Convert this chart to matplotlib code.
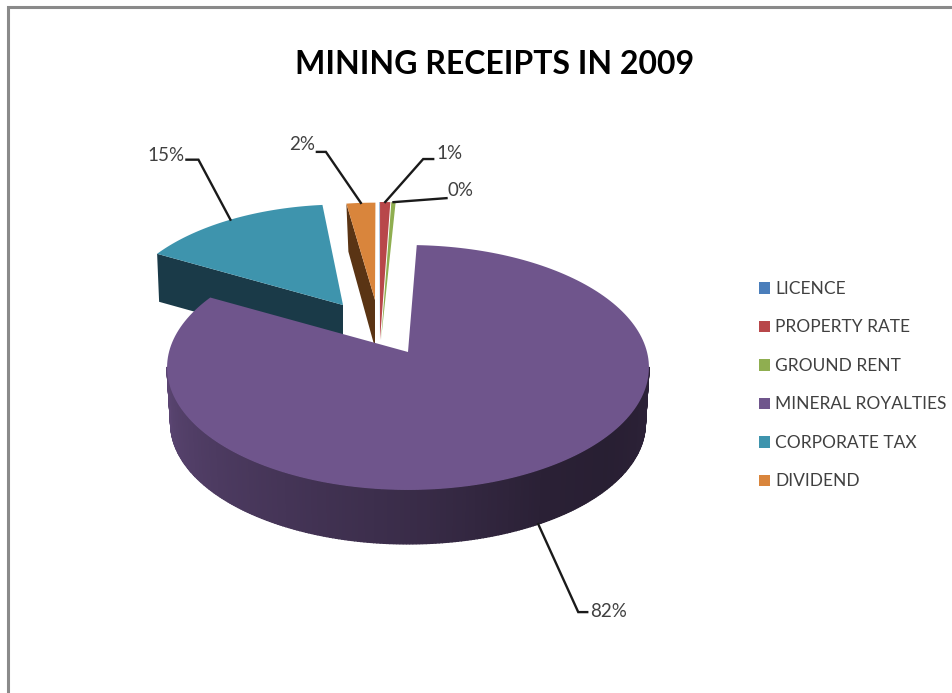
import numpy as np
import matplotlib
matplotlib.use("Agg")
import matplotlib.pyplot as plt
from matplotlib.patches import Polygon, Patch

# ---- data ----
categories = ["LICENCE", "PROPERTY RATE", "GROUND RENT", "MINERAL ROYALTIES", "CORPORATE TAX", "DIVIDEND"]
values = [0.03, 0.6, 0.25, 82.3, 15.4, 2.4]
labels = [None, "1%", "0%", "82%", "15%", "2%"]
title = "MINING RECEIPTS IN 2009"

# ---- style ----
top_colors = ["#4a7ebb", "#b8474a", "#8fae50", "#6f558c", "#3e94ad", "#d9853c"]
side_colors = ["#25405e", "#b8474a", "#6f8f3c", "#3a2b4c", "#1a3a48", "#5a3414"]
apex = [(380, 340), (380, 340), (381, 340), (408, 352), (343, 305), (375, 300)]
radius_scale = [1.29, 1.29, 1.29, 1.0, 0.94, 0.91]
twist = [0.5, 0.5, 0.5, -0.2, -0.2, -2.8]
depths = [8, 8, 8, 56, 48, 48]
start_angle = -0.6
Rx, Ry, k = 239.0, 120.5, 0.1265

plt.rcParams["font.family"] = ["Lato", "DejaVu Sans"]
fig = plt.figure(figsize=(9.53, 6.93), dpi=100)
ax = fig.add_axes([0, 0, 1, 1])
ax.set_xlim(0, 953)
ax.set_ylim(693, 0)
ax.axis("off")


def proj(center, theta, scale=1.0):
    """Perspective projection of a point on the pie circle."""
    t = np.radians(theta)
    u, v = np.sin(t), np.cos(t)
    s = scale / (1 + k * v)
    return center[0] + Rx * u * s, center[1] - Ry * v * s


cum = np.cumsum([0] + values) * 3.6 + start_angle
spans = [(a + t, b + t) for a, b, t in zip(cum[:-1], cum[1:], twist)]


def arc(center, a, b, scale=1.0, n=200):
    th = np.linspace(a, b, n)
    return np.column_stack(proj(center, th, scale))


def shade(base, f):
    c = np.array(matplotlib.colors.to_rgb(base))
    return tuple(c * f)


# far slices first; the big near slice last
for i in [4, 5, 2, 1, 0, 3]:
    a, b = spans[i]
    c = apex[i]
    d = depths[i]
    sc = radius_scale[i]
    cb = (c[0], c[1] + d)
    top = arc(c, a, b, sc)
    if i == 3:
        # rim with smooth shading around the front
        th = np.linspace(97, 263, 240)
        for t0, t1 in zip(th[:-1], th[1:]):
            p = arc(c, t0, t1, 1.0, 2)
            q = arc(cb, t0, t1, 0.985, 2)
            m = (t0 + t1) / 2
            f = np.interp(m, [88, 130, 150, 180, 225, 272], [0.42, 0.36, 0.38, 0.52, 0.68, 0.85])
            ax.add_patch(Polygon(np.vstack([p, q[::-1]]), fc=shade(top_colors[3], f),
                                 ec=shade(top_colors[3], f), lw=1.0, zorder=5))
    elif i in (4, 5):
        # cut face of the leading radial edge
        p0 = top[0]
        face = [p0, c, cb, (p0[0] + 2, p0[1] + d)]
        ax.add_patch(Polygon(face, fc=side_colors[i], ec="none", zorder=2 + i * 0.01))
    ax.add_patch(Polygon(np.vstack([[c], top]), fc=top_colors[i], ec="none",
                         zorder=6 if i == 3 else 3 + i * 0.01))

# leader lines and percentage labels: (dx, dy, hook, text gap, text lift)
leaders = {1: (38, -43, 10, 3, -6), 2: (53, -4, 0, 1, -8), 3: (40, 88, 9, 3, -1),
           4: (-32, -60, -12, -2, -4), 5: (-35, -51, -9, -2, -7)}
for i, (dx, dy, hook, gap, lift) in leaders.items():
    a, b = spans[i]
    mid = (a + b) / 2
    if i == 3:
        x0, y0 = proj((apex[i][0], apex[i][1] + depths[i]), mid, 0.985)
    else:
        x0, y0 = proj(apex[i], mid, radius_scale[i])
    x1, y1 = x0 + dx, y0 + dy
    x2 = x1 + hook
    ax.plot([x0, x1, x2], [y0, y1, y1], color="#1a1a1a", lw=1.7, zorder=7,
            solid_joinstyle="miter")
    ax.text(x2 + gap, y1 + lift, labels[i], ha="left" if dx > 0 else "right", va="center",
            fontsize=13.5, color="#404040", zorder=8)

ax.text(495, 64, title, ha="center", va="center", fontsize=23, fontweight="bold", color="black")

handles = [Patch(fc=c, ec="none") for c in top_colors]
ax.legend(handles, categories, loc="upper left", bbox_to_anchor=(759 / 953, 1 - 281 / 693),
          frameon=False, fontsize=12.5, labelcolor="#404040", handlelength=0.63, handleheight=0.63,
          handletextpad=0.29, labelspacing=1.295, borderpad=0, borderaxespad=0)

# outer frame
ax.plot([8, 8, 953], [693, 7, 7], color="#8a8a8a", lw=2.2, zorder=1, solid_joinstyle="miter")

fig.savefig("out.png", dpi=100)
